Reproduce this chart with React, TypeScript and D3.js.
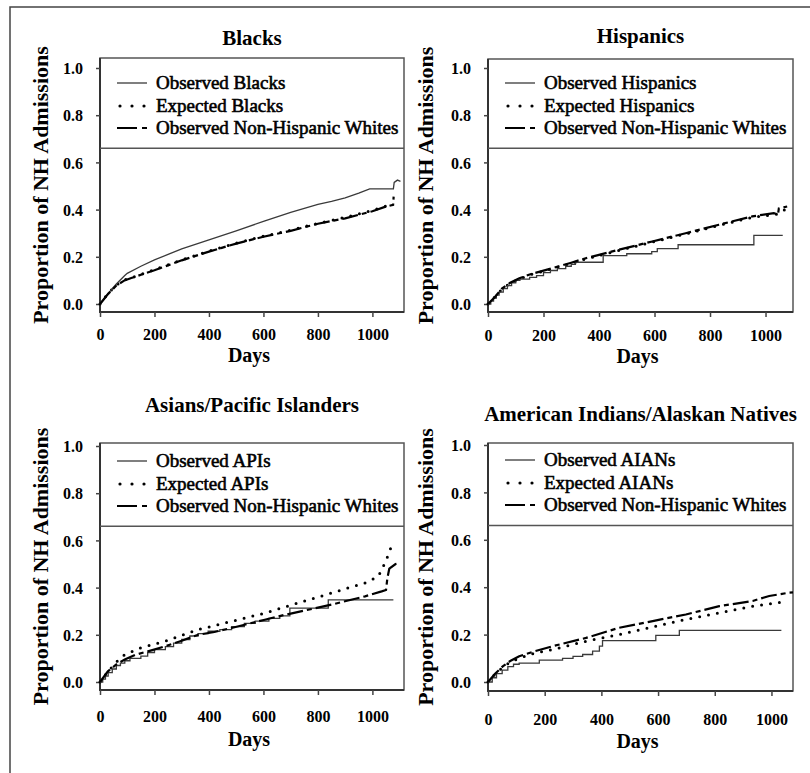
import React, { useRef, useEffect } from 'react';
import * as d3 from 'd3';

type Pt = [number, number];

// titles, legend names and ticks
const titles = ['Blacks', 'Hispanics', 'Asians/Pacific Islanders', 'American Indians/Alaskan Natives'];
const groupNames = ['Blacks', 'Hispanics', 'APIs', 'AIANs'];
const xTicks = [0, 200, 400, 600, 800, 1000];
const yTicks = [0, 0.2, 0.4, 0.6, 0.8, 1.0];
const xMaxDays = [1116, 1099, 1116, 1076];
const legendCut = 0.66;

// Blacks panel
const blacksObserved: Pt[] = [
  [0, 0], [15, 0.02], [30, 0.045], [60, 0.085], [90, 0.12], [100, 0.13], [150, 0.16], [200, 0.187],
  [250, 0.21], [300, 0.234], [400, 0.272], [500, 0.31], [600, 0.35], [700, 0.388], [800, 0.422],
  [850, 0.435], [900, 0.45], [950, 0.47], [990, 0.488], [1077, 0.488], [1080, 0.515], [1092, 0.525], [1103, 0.52],
];
const blacksExpected: Pt[] = [
  [0, 0], [30, 0.045], [60, 0.08], [90, 0.102], [120, 0.113], [200, 0.145], [300, 0.187], [400, 0.224],
  [500, 0.258], [600, 0.287], [700, 0.313], [800, 0.342], [900, 0.367], [1000, 0.396], [1050, 0.415], [1078, 0.425],
];
const blacksWhites: Pt[] = [
  [0, 0], [30, 0.043], [60, 0.078], [90, 0.1], [115, 0.11], [200, 0.143], [300, 0.185], [400, 0.222],
  [500, 0.256], [600, 0.285], [700, 0.31], [800, 0.34], [900, 0.363], [1000, 0.393], [1050, 0.413],
  [1076, 0.42], [1078, 0.455],
];

// Hispanics panel
const hispObserved: Pt[] = [
  [0, 0], [10, 0.012], [20, 0.025], [30, 0.038], [40, 0.05], [55, 0.065], [70, 0.078], [85, 0.09],
  [100, 0.1], [115, 0.105], [150, 0.113], [175, 0.12], [200, 0.133], [225, 0.142], [250, 0.15],
  [280, 0.16], [300, 0.168], [315, 0.177], [415, 0.205], [500, 0.213], [590, 0.222], [610, 0.235],
  [685, 0.251], [958, 0.291], [1062, 0.291],
];
const hispExpected: Pt[] = [
  [0, 0], [25, 0.03], [50, 0.063], [80, 0.088], [113, 0.106], [150, 0.123], [233, 0.15], [300, 0.172],
  [352, 0.191], [472, 0.227], [592, 0.262], [712, 0.297], [832, 0.333], [952, 0.367], [1040, 0.38], [1078, 0.405],
];
const hispWhites: Pt[] = [
  [0, 0], [25, 0.03], [50, 0.065], [80, 0.09], [113, 0.109], [150, 0.125], [233, 0.152], [300, 0.175],
  [352, 0.194], [400, 0.208], [472, 0.23], [592, 0.265], [712, 0.3], [832, 0.336], [952, 0.371],
  [1000, 0.38], [1030, 0.385], [1045, 0.38], [1048, 0.405], [1078, 0.413],
];

// Asians/Pacific Islanders panel
const apiObserved: Pt[] = [
  [0, 0], [10, 0.012], [20, 0.025], [30, 0.04], [45, 0.055], [60, 0.07], [75, 0.08], [91, 0.09],
  [110, 0.1], [150, 0.11], [175, 0.125], [200, 0.137], [240, 0.15], [270, 0.165], [300, 0.18],
  [330, 0.195], [360, 0.205], [397, 0.215], [440, 0.222], [483, 0.235], [530, 0.248], [570, 0.258],
  [620, 0.27], [660, 0.28], [697, 0.313], [838, 0.348], [1077, 0.348],
];
const apiExpected: Pt[] = [
  [0, 0], [30, 0.045], [60, 0.085], [91, 0.116], [150, 0.145], [238, 0.172], [360, 0.222], [483, 0.257],
  [605, 0.292], [728, 0.335], [850, 0.377], [973, 0.42], [1022, 0.448], [1040, 0.49], [1059, 0.54], [1071, 0.58],
];
const apiWhites: Pt[] = [
  [0, 0], [29, 0.045], [60, 0.075], [91, 0.095], [130, 0.115], [176, 0.13], [238, 0.151], [300, 0.175],
  [360, 0.2], [420, 0.212], [483, 0.229], [605, 0.264], [680, 0.285], [700, 0.29], [760, 0.305],
  [850, 0.328], [973, 0.363], [1034, 0.384], [1050, 0.39], [1055, 0.44], [1062, 0.48], [1085, 0.5], [1100, 0.505],
];

// American Indians/Alaskan Natives panel
const aianObserved: Pt[] = [
  [0, 0], [15, 0.018], [30, 0.035], [50, 0.05], [70, 0.065], [90, 0.075], [110, 0.08], [181, 0.092],
  [263, 0.1], [300, 0.108], [334, 0.116], [369, 0.13], [393, 0.151], [404, 0.175], [592, 0.197],
  [675, 0.218], [1035, 0.218],
];
const aianExpected: Pt[] = [
  [0, 0], [25, 0.033], [52, 0.062], [80, 0.085], [110, 0.1], [160, 0.12], [228, 0.137], [346, 0.172],
  [463, 0.2], [581, 0.232], [698, 0.264], [816, 0.292], [934, 0.32], [1027, 0.335], [1040, 0.34],
];
const aianWhites: Pt[] = [
  [0, 0], [25, 0.035], [52, 0.066], [80, 0.09], [110, 0.109], [160, 0.128], [228, 0.151], [346, 0.186],
  [463, 0.229], [581, 0.257], [698, 0.285], [816, 0.32], [934, 0.342], [992, 0.363], [1063, 0.377], [1076, 0.378],
];

const observedSeries = [blacksObserved, hispObserved, apiObserved, aianObserved];
const expectedSeries = [blacksExpected, hispExpected, apiExpected, aianExpected];
const whitesSeries = [blacksWhites, hispWhites, apiWhites, aianWhites];
// which observed series are drawn as steps
const observedStepped = [false, true, true, true];

// pixel layout of each panel
const layout = [
  { left: 100, right: 404, top: 58, bottom: 312, y0: 304, y1: 68, titleY: 45, tickY: 340, daysY: 362, labX: 48 },
  { left: 488, right: 793, top: 59, bottom: 312, y0: 304, y1: 68, titleY: 43, tickY: 341, daysY: 363, labX: 433 },
  { left: 100, right: 404, top: 443, bottom: 690, y0: 682, y1: 446, titleY: 412, tickY: 722, daysY: 746, labX: 48 },
  { left: 488, right: 793, top: 443, bottom: 691, y0: 682, y1: 445, titleY: 421, tickY: 725, daysY: 748, labX: 433 },
];

const FONT = '"Liberation Serif", "Times New Roman", serif';

export default function App() {
  const svgRef = useRef<SVGSVGElement>(null);

  useEffect(() => {
    const svg = d3.select(svgRef.current);
    svg.selectAll('*').remove();

    // outer frame (top and left edges only)
    svg.append('path')
      .attr('d', 'M10,773 L10,7 L810,7')
      .attr('fill', 'none')
      .attr('stroke', '#444')
      .attr('stroke-width', 1.5);

    layout.forEach((L, i) => {
      const g = svg.append('g');
      const x = d3.scaleLinear().domain([0, xMaxDays[i]]).range([L.left, L.right]);
      const y = d3.scaleLinear().domain([0, 1]).range([L.y0, L.y1]);

      // title
      g.append('text')
        .attr('x', (L.left + L.right) / 2)
        .attr('y', L.titleY)
        .attr('text-anchor', 'middle')
        .style('font-family', FONT)
        .style('font-weight', 'bold')
        .style('font-size', '21px')
        .text(titles[i]);

      // plot box
      g.append('rect')
        .attr('x', L.left).attr('y', L.top)
        .attr('width', L.right - L.left).attr('height', L.bottom - L.top)
        .attr('fill', 'none').attr('stroke', '#555').attr('stroke-width', 1.5);
      g.append('path')
        .attr('d', `M${L.left},${L.top} L${L.left},${L.bottom} L${L.right},${L.bottom}`)
        .attr('fill', 'none').attr('stroke', '#333').attr('stroke-width', 2);

      // legend separator
      g.append('line')
        .attr('x1', L.left).attr('x2', L.right)
        .attr('y1', y(legendCut)).attr('y2', y(legendCut))
        .attr('stroke', '#555').attr('stroke-width', 1.5);

      // axes
      const yAxis = d3.axisLeft(y).tickValues(yTicks).tickFormat(d3.format('.1f')).tickSize(4);
      const ya = g.append('g').attr('transform', `translate(${L.left},0)`).call(yAxis);
      ya.select('.domain').remove();
      ya.selectAll('line').attr('stroke', '#444').attr('stroke-width', 1.5);
      ya.selectAll('text')
        .attr('x', -17).attr('dy', '0.36em')
        .style('font-family', FONT).style('font-weight', 'bold').style('font-size', '16px').attr('fill', '#000');

      const xAxis = d3.axisBottom(x).tickValues(xTicks).tickFormat(d3.format('d')).tickSize(5);
      const xa = g.append('g').attr('transform', `translate(0,${L.bottom})`).call(xAxis);
      xa.select('.domain').remove();
      xa.selectAll('line').attr('stroke', '#444').attr('stroke-width', 1.5);
      xa.selectAll('text')
        .attr('y', L.tickY - L.bottom).attr('dy', 0)
        .style('font-family', FONT).style('font-weight', 'bold').style('font-size', '16px').attr('fill', '#000');

      // axis titles
      g.append('text')
        .attr('x', (L.left + L.right) / 2 - 3)
        .attr('y', L.daysY)
        .attr('text-anchor', 'middle')
        .style('font-family', FONT).style('font-weight', 'bold').style('font-size', '20px')
        .text('Days');
      const cy = (L.top + L.bottom) / 2;
      g.append('text')
        .attr('transform', `translate(${L.labX},${cy}) rotate(-90)`)
        .attr('text-anchor', 'middle')
        .style('font-family', FONT).style('font-weight', 'bold').style('font-size', '22px')
        .text('Proportion of NH Admissions');

      // data lines
      const lin = d3.line<Pt>().x(d => x(d[0])).y(d => y(d[1]));
      const step = d3.line<Pt>().x(d => x(d[0])).y(d => y(d[1])).curve(d3.curveStepAfter);

      g.append('path')
        .attr('d', lin(expectedSeries[i]))
        .attr('fill', 'none').attr('stroke', '#000').attr('stroke-width', 3)
        .attr('stroke-dasharray', '0,9').attr('stroke-linecap', 'round');
      g.append('path')
        .attr('d', (observedStepped[i] ? step : lin)(observedSeries[i]))
        .attr('fill', 'none').attr('stroke', '#3a3a3a').attr('stroke-width', 1.3);
      g.append('path')
        .attr('d', lin(whitesSeries[i]))
        .attr('fill', 'none').attr('stroke', '#000').attr('stroke-width', 2.2)
        .attr('stroke-dasharray', '16,4,5,4');

      // legend
      const rows = [
        { label: `Observed ${groupNames[i]}`, kind: 'obs' },
        { label: `Expected ${groupNames[i]}`, kind: 'exp' },
        { label: 'Observed Non-Hispanic Whites', kind: 'wh' },
      ];
      const offs = [15, 38, 60];
      rows.forEach((r, k) => {
        const ry = L.y1 + offs[k];
        const ln = g.append('line')
          .attr('x1', L.left + 17).attr('x2', L.left + 47)
          .attr('y1', ry).attr('y2', ry);
        if (r.kind === 'obs') ln.attr('stroke', '#3a3a3a').attr('stroke-width', 1.3);
        if (r.kind === 'exp') ln.attr('stroke', '#000').attr('stroke-width', 3.2)
          .attr('stroke-dasharray', '0,12').attr('stroke-linecap', 'round').attr('x1', L.left + 20);
        if (r.kind === 'wh') ln.attr('stroke', '#000').attr('stroke-width', 2.2).attr('stroke-dasharray', '20,5,5,20');
        g.append('text')
          .attr('x', L.left + 56)
          .attr('y', ry + 6)
          .style('font-family', FONT).style('font-size', '19px')
          .attr('stroke', '#000').attr('stroke-width', 0.6)
          .text(r.label);
      });
    });
  }, []);

  return (
    <svg
      ref={svgRef}
      width={810}
      height={773}
      style={{ position: 'absolute', left: 0, top: 0, background: '#fff' }}
    />
  );
}
